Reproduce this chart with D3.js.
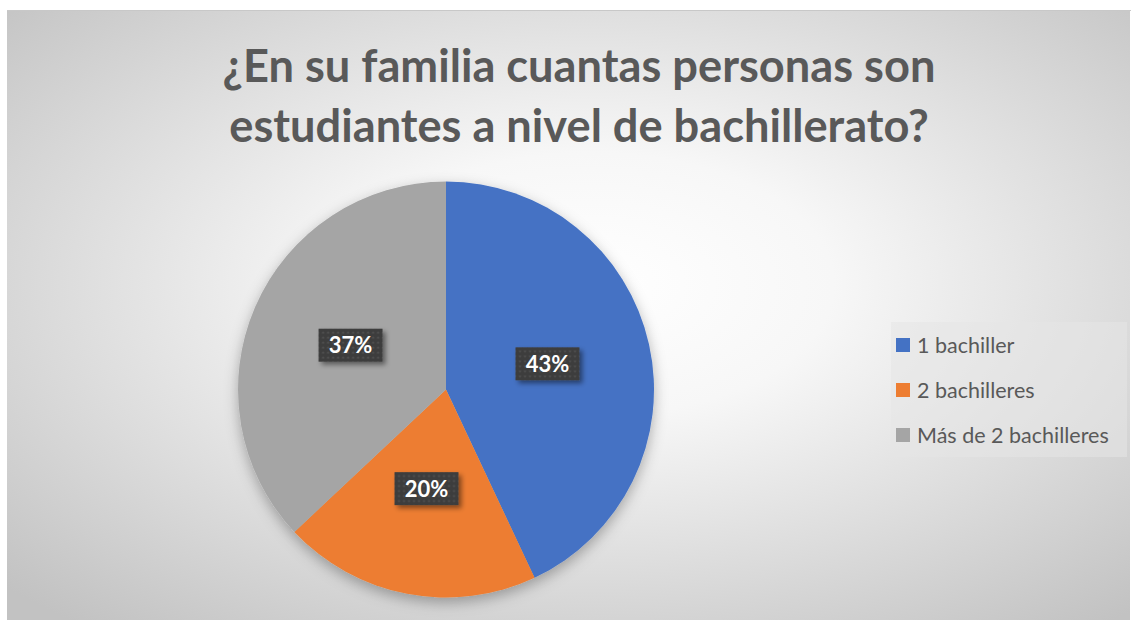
<!DOCTYPE html>
<html>
<head>
<meta charset="utf-8">
<script src="https://cdn.jsdelivr.net/npm/d3@7"></script>
<style>
  body { margin: 0; background: #fff; }
  svg { display: block; }
</style>
</head>
<body>
<div id="chart"></div>
<script>
let titel = ["¿En su familia cuantas personas son", "estudiantes a nivel de bachillerato?"];
let kategorien = ["1 bachiller", "2 bachilleres", "Más de 2 bachilleres"];
let anteile = [43, 20, 37];
let farben = ["#4472C4", "#ED7D31", "#A5A5A5"];

let width = 1131,
  height = 620,
  radius = 208;

let svg = d3.select("#chart")
  .append("svg")
  .attr("width", width)
  .attr("height", height);

let defs = svg.append("defs");

// Hintergrundverlauf
let bg = defs.append("radialGradient")
  .attr("id", "bg")
  .attr("cx", "52%")
  .attr("cy", "45%")
  .attr("r", "72%");
bg.append("stop").attr("offset", "0%").attr("stop-color", "#ffffff");
bg.append("stop").attr("offset", "30%").attr("stop-color", "#f7f7f7");
bg.append("stop").attr("offset", "100%").attr("stop-color", "#c2c2c2");

let pieShadow = defs.append("filter")
  .attr("id", "pieShadow")
  .attr("x", "-20%").attr("y", "-20%")
  .attr("width", "140%").attr("height", "140%");
pieShadow.append("feDropShadow")
  .attr("dx", 0).attr("dy", 5)
  .attr("stdDeviation", 7)
  .attr("flood-color", "#000")
  .attr("flood-opacity", 0.3);

let boxShadow = defs.append("filter")
  .attr("id", "boxShadow")
  .attr("x", "-30%").attr("y", "-30%")
  .attr("width", "160%").attr("height", "160%");
boxShadow.append("feDropShadow")
  .attr("dx", 3).attr("dy", 3)
  .attr("stdDeviation", 2.5)
  .attr("flood-color", "#000")
  .attr("flood-opacity", 0.45);

// gepunktetes Muster der Beschriftungsboxen
let muster = defs.append("pattern")
  .attr("id", "punkte")
  .attr("width", 5)
  .attr("height", 5)
  .attr("patternUnits", "userSpaceOnUse");
muster.append("rect").attr("width", 5).attr("height", 5).attr("fill", "#3d3d3d");
muster.append("circle").attr("cx", 2.5).attr("cy", 2.5).attr("r", 1).attr("fill", "#555");

svg.append("rect")
  .attr("x", 7)
  .attr("y", 10)
  .attr("width", width - 8)
  .attr("height", height - 10)
  .attr("fill", "url(#bg)");

svg.append("line")
  .attr("x1", 7).attr("x2", width)
  .attr("y1", 10.5).attr("y2", 10.5)
  .attr("stroke", "#c8c8c8");

// Titel
let titelText = svg.append("g")
  .selectAll("text")
  .data(titel)
  .enter()
  .append("text")
  .attr("x", 579)
  .attr("y", function(d, i) { return 82 + i * 60; })
  .attr("text-anchor", "middle")
  .style("font-family", "Lato, 'Open Sans', sans-serif")
  .style("font-weight", "bold")
  .style("font-size", "41px")
  .style("fill", "#595959")
  .text(function(d) { return d; });

// Schriftgröße an die Breite des Originals (ca. 713px) anpassen
let breiteste = d3.max(titelText.nodes(), function(n) { return n.getComputedTextLength(); });
titelText.style("font-size", (41 * 713 / breiteste) + "px");

let data = kategorien.map(function(k, i) {
  return { label: k, wert: anteile[i] };
});

let color = d3.scaleOrdinal()
  .domain(kategorien)
  .range(farben);

let pie = d3.pie()
  .sort(null)
  .value(function(d) { return d.wert; })(data);

let arc = d3.arc()
  .outerRadius(radius)
  .innerRadius(0);

let labelArc = d3.arc()
  .outerRadius(radius * 0.5)
  .innerRadius(radius * 0.5);

let g = svg.append("g")
  .attr("transform", "translate(446,389.5)");

g.append("g")
  .attr("filter", "url(#pieShadow)")
  .selectAll("path")
  .data(pie)
  .enter()
  .append("path")
  .attr("d", arc)
  .style("fill", function(d) { return color(d.data.label); });

let labels = g.selectAll(".lbl")
  .data(pie)
  .enter()
  .append("g")
  .attr("class", "lbl")
  .attr("transform", function(d) {
    let c = labelArc.centroid(d);
    return "translate(" + c[0] + "," + (c[1] - 3) + ")";
  });

labels.append("rect")
  .attr("x", -32)
  .attr("y", -16.5)
  .attr("width", 64)
  .attr("height", 33)
  .attr("fill", "url(#punkte)")
  .attr("filter", "url(#boxShadow)");

labels.append("text")
  .attr("text-anchor", "middle")
  .attr("dy", "0.36em")
  .style("font-family", "Lato, 'Open Sans', sans-serif")
  .style("font-weight", "bold")
  .style("font-size", "22px")
  .style("fill", "#fff")
  .text(function(d) { return d.data.wert + "%"; });

// Legende
let legende = svg.append("g")
  .attr("transform", "translate(891,322)");

legende.append("rect")
  .attr("width", 236)
  .attr("height", 135)
  .attr("fill", "#e6e6e6")
  .attr("opacity", 0.55);

let eintrag = legende.selectAll(".eintrag")
  .data(kategorien)
  .enter()
  .append("g")
  .attr("class", "eintrag")
  .attr("transform", function(d, i) { return "translate(5," + (23 + i * 45) + ")"; });

eintrag.append("rect")
  .attr("y", -7)
  .attr("width", 14)
  .attr("height", 14)
  .attr("fill", function(d) { return color(d); });

eintrag.append("text")
  .attr("x", 21)
  .attr("dy", "0.35em")
  .style("font-family", "Lato, 'Open Sans', sans-serif")
  .style("font-size", "21.5px")
  .style("fill", "#595959")
  .text(function(d) { return d; });
</script>
</body>
</html>
